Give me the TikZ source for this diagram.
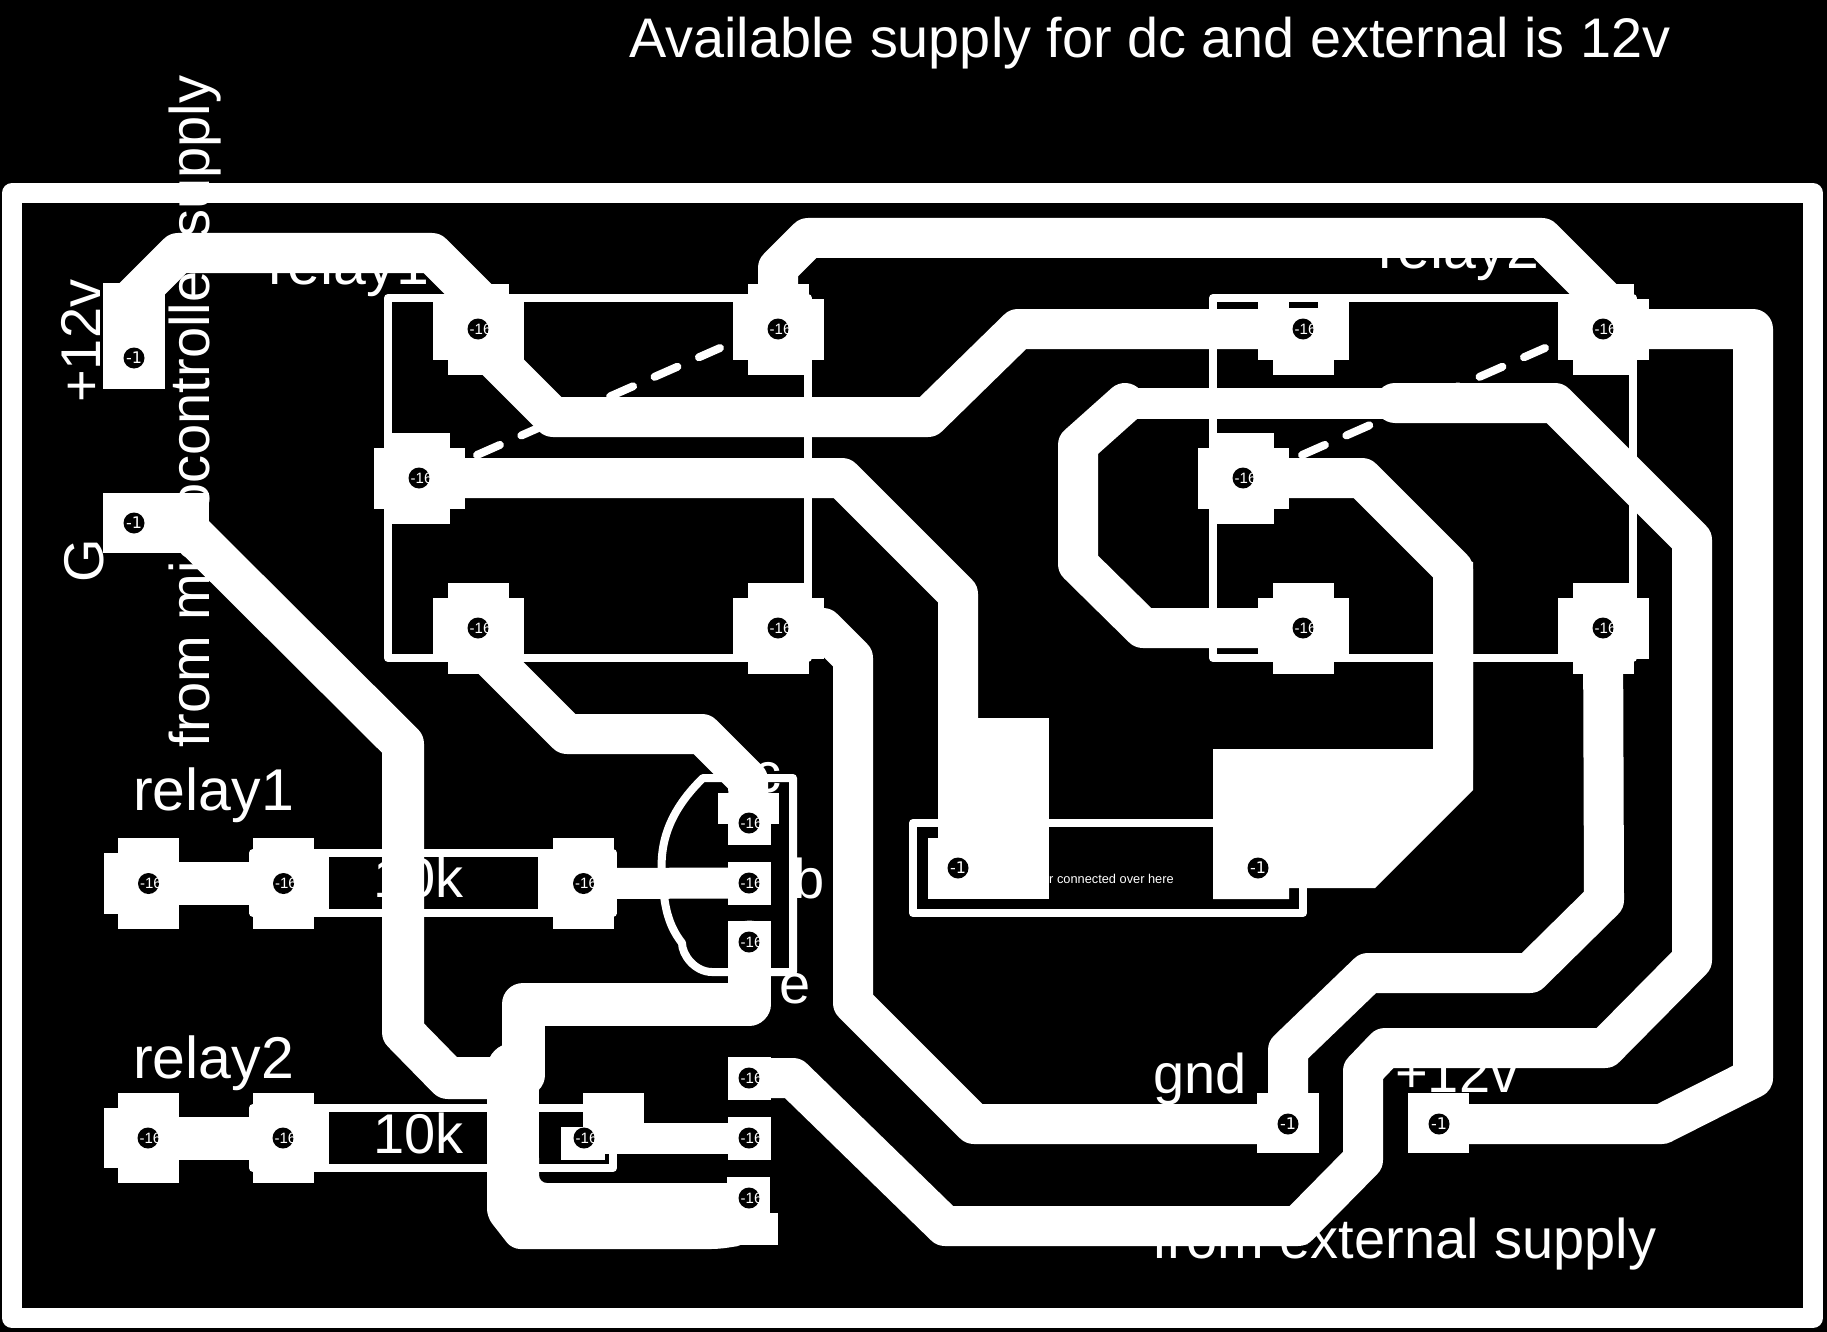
\documentclass[tikz,border=0pt]{standalone}
\usepackage{fontspec}
\setmainfont{Liberation Sans}
\newfontfamily\holefont{DejaVu Sans}
\tikzset{
  x=1pt,y=-1pt,
  lbl/.style={text=white,font=\fontsize{56}{60}\selectfont,inner sep=0pt,anchor=base west},
  rlbl/.style={lbl,font=\fontsize{59}{60}\selectfont},
  silk/.style={draw=white,line width=8pt,line join=round,line cap=round},
  dashsilk/.style={draw=white,line width=8pt,line cap=round,dash pattern=on 25pt off 23.5pt},
  trace/.style={draw=white,line width=40pt,line join=round,line cap=round},
  holesm/.style={circle,fill=black,minimum size=21pt,inner sep=0pt,
    path picture={\node[text=white,inner sep=0pt,font=\fontsize{15}{16}\selectfont] at ([xshift=2.5pt]path picture bounding box.center) {-16};}},
  holebg/.style={circle,fill=black,minimum size=21pt,inner sep=0pt,
    path picture={\node[text=white,inner sep=0pt,font=\holefont\fontsize{16}{17}\selectfont] at (path picture bounding box.center) {-1};}},
}
\newcommand{\crosspad}[1]{%
  \fill[white] ([xshift=-45.5pt,yshift=-30.5pt]#1) rectangle ([xshift=45.5pt,yshift=30.5pt]#1);
  \fill[white] ([xshift=-30.5pt,yshift=-45.5pt]#1) rectangle ([xshift=30.5pt,yshift=45.5pt]#1);}
\newcommand{\sqpad}[1]{%
  \fill[white] ([xshift=-21.5pt,yshift=-21.5pt]#1) rectangle ([xshift=21.5pt,yshift=21.5pt]#1);}
\begin{document}
\begin{tikzpicture}
\useasboundingbox (0,0) rectangle (1827,1332);
\fill[black] (0,0) rectangle (1827,1332);
% hole positions
\coordinate (hp) at (134,358);
\coordinate (hg) at (134,523);
\coordinate (ra) at (478,329);
\coordinate (rb) at (778,329);
\coordinate (rc) at (419,478);
\coordinate (rd) at (478,628);
\coordinate (re) at (778,628);
\coordinate (sa) at (1303,329);
\coordinate (sb) at (1603,329);
\coordinate (sc) at (1243,478);
\coordinate (sd) at (1303,628);
\coordinate (se) at (1603,628);
\coordinate (ta) at (148.5,883.5);
\coordinate (tb) at (283.5,883.5);
\coordinate (tc) at (583.5,883.5);
\coordinate (ua) at (148,1138);
\coordinate (ub) at (283,1138);
\coordinate (uc) at (584,1138);
\coordinate (qc) at (749,823);
\coordinate (qb) at (749,883);
\coordinate (qe) at (749,942);
\coordinate (va) at (749,1078);
\coordinate (vb) at (749,1138);
\coordinate (vc) at (749,1198);
\coordinate (ma) at (958,868);
\coordinate (mb) at (1258,868);
\coordinate (xg) at (1288,1124);
\coordinate (xp) at (1439,1124);
% labels
\node[lbl,font=\fontsize{55.8}{60}\selectfont] (ttl) at (629,58) {Available supply for dc and external is 12v};
\node[rlbl] (l1) at (268,284) {relay1};
\node[rlbl] (l2) at (1378,269) {relay2};
\node[lbl,rotate=90] (l3) at (100,403) {+12v};
\node[lbl,rotate=90] (l4) at (103,583) {G};
\node[lbl,rotate=90] (l5) at (209,748) {from microcontroller supply};
\node[rlbl] (l6) at (133,810) {relay1};
\node[rlbl] (l7) at (133,1078) {relay2};
\node[lbl] (l8) at (373,897) {10k};
\node[lbl] (l9) at (373,1153) {10k};
\node[lbl] (l10) at (753,792) {c};
\node[lbl] (l11) at (793,898) {b};
\node[lbl] (l12) at (779,1003) {e};
\node[lbl] (l13) at (1153,1093) {gnd};
\node[lbl] (l14) at (1395,1092) {+12v};
\node[lbl] (l15) at (1152,1258) {from external supply};
\node[text=white,inner sep=0pt,anchor=base west,font=\fontsize{12.8}{13}\selectfont] (l16) at (1049,883) {r connected over here};
% board outline
\draw[draw=white,line width=20pt,line join=round] (12,193) rectangle (1813,1318);
% component outlines
\draw[silk] (388,298) rectangle (808,658);
\draw[silk] (1213,298) rectangle (1633,658);
\draw[dashsilk] (477,455) -- (720,348);
\draw[dashsilk] (1302,455) -- (1545,348);
\draw[silk] (253,853) rectangle (613,913);
\draw[silk] (253,1108) rectangle (613,1168);
\draw[silk] (913,823) rectangle (1303,913);
\draw[silk] (703,778) -- (793,778) -- (793,972) -- (712,972)
  .. controls (695,972) and (682,955) .. (682,943)
  .. controls (672,930) and (665,915) .. (663,885)
  .. controls (658,850) and (665,815) .. (703,778);
% traces
\draw[trace] (hp) -- (134,297) -- (178,253) -- (432,253) -- (478,299) -- (478,342) -- (553,417) -- (928,417) -- (1018,329) -- (sa);
\draw[trace] (rc) -- (842,478) -- (958,594) -- (ma);
\draw[trace] (rb) -- (778,268) -- (808,238) -- (1542,238) -- (1603,299) -- (sb) -- (1753,329) -- (1753,1078) -- (1662,1124) -- (xp);
\draw[trace] (re) -- (823,628) -- (853,658) -- (853,1003) -- (974,1124) -- (xg);
\draw[trace] (xg) -- (1288,1050) -- (1368,973) -- (1530,973) -- (1604,900) -- (se);
\draw[trace] (sd) -- (1143,628) -- (1078,564) -- (1078,445) -- (1125,403);
\draw[trace,line width=31pt] (1125,403) -- (1395,403);
\draw[trace] (1395,403) -- (1555,403) -- (1692,540) -- (1692,960) -- (1605,1048) -- (1385,1048) -- (1363,1071) -- (1363,1160) -- (1298,1226) -- (945,1226) -- (793,1078) -- (va);
\draw[trace] (sc) -- (1362,478) -- (1453,569) -- (1453,770);
\draw[trace] (rd) -- (461,628) -- (567,734) -- (702,734) -- (748,780) -- (qc);
\draw[trace,line width=43pt,line cap=butt] (ta) -- (tb);
\draw[trace,line width=43pt,line cap=butt] (ua) -- (ub);
\draw[trace,line width=31pt,line cap=butt] (tc) -- (qb);
\draw[trace,line width=31pt,line cap=butt] (uc) -- (vb);
\draw[trace,line width=42pt] (hg) -- (181,523) -- (403,744) -- (403,1032) -- (448,1078) -- (510,1078);
\draw[trace,line width=43pt] (qe) -- (749,1004) -- (523,1004) -- (523,1075);
\draw[trace,line width=52pt] (513,1069) -- (513,1200);
\fill[white,rounded corners=8pt] (487,1150) -- (487,1217) -- (512,1249) -- (719,1249) -- (745,1245) -- (745,1183) -- (539,1183) -- (539,1150) -- cycle;
% copper blocks
\fill[white] (978,718) rectangle (1049,899);
\fill[white] (928,838) rectangle (1049,899);
\fill[white] (1213,749) -- (1433,749) -- (1433,560) -- (1473,562) -- (1473,790) -- (1375,888) -- (1289,888) -- (1289,899) -- (1213,899) -- cycle;
% pads
\fill[white] (103,283) rectangle (165,389);
\fill[white] (103,493) rectangle (209,553);
\crosspad{ra}\crosspad{rb}\crosspad{rc}\crosspad{rd}\crosspad{re}
\crosspad{sb}\crosspad{sc}\crosspad{sd}\crosspad{se}
% pad under the relay2 outline, cut at its top
\fill[white] (1258,298) rectangle (1349,359.5);
\fill[white] (1272.5,298) rectangle (1333.5,374.5);
\fill[black] (1289,302) rectangle (1318,308);
\fill[white] (104,853) rectangle (179,914);
\fill[white] (118,838) rectangle (179,929);
\fill[white] (104,1108) rectangle (179,1168);
\fill[white] (118,1093) rectangle (179,1183);
\fill[white] (249,853) rectangle (329,914);
\fill[white] (253,838) rectangle (314,929);
\fill[white] (249,1108) rectangle (329,1168);
\fill[white] (253,1093) rectangle (314,1183);
\fill[white] (553,838) rectangle (614,929);
\fill[white] (538,853) rectangle (617,914);
\fill[white] (561,1127) rectangle (605,1160);
\fill[white] (583,1093) rectangle (644,1154);
\fill[white] (718,793) rectangle (779,824);
\sqpad{qc}\sqpad{qb}\sqpad{qe}\sqpad{va}\sqpad{vb}
\fill[white] (727,1177) rectangle (770,1230);
\fill[white] (727,1213) rectangle (778,1245);
\fill[white] (1257,1093) rectangle (1319,1153);
\fill[white] (1408,1093) rectangle (1469,1153);
% drill holes
\foreach \n in {ra,rb,rc,rd,re,sa,sb,sc,sd,se,ta,tb,tc,ua,ub,uc,qc,qb,qe,va,vb,vc}
  \node[holesm] (h\n) at (\n) {};
\foreach \n in {hp,hg,ma,mb,xg,xp}
  \node[holebg] (h\n) at (\n) {};
\end{tikzpicture}
\end{document}
